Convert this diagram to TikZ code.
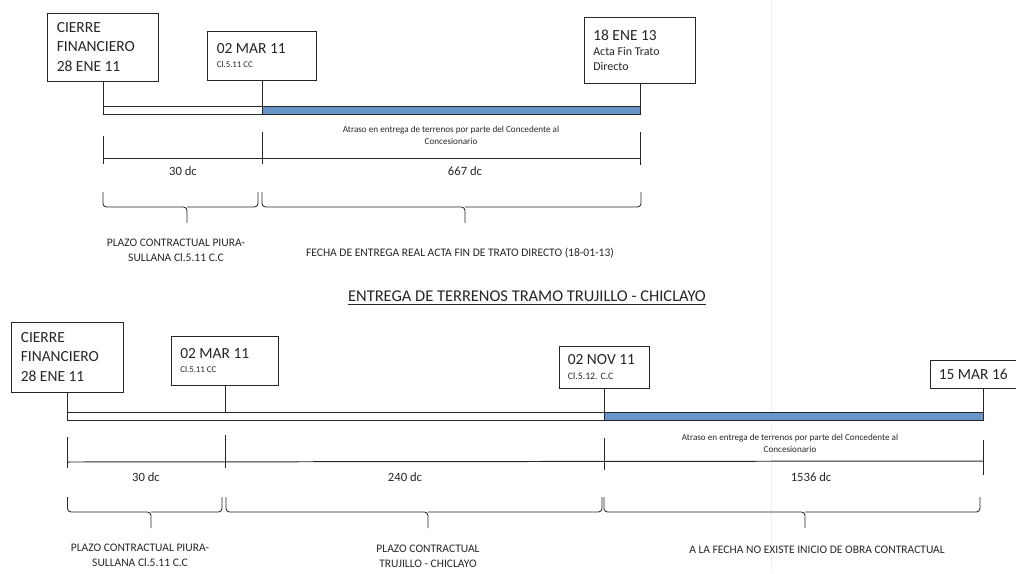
\documentclass[tikz,border=0pt]{standalone}
\usepackage{fontspec}
\setmainfont{Carlito}
\usetikzlibrary{positioning}
\definecolor{barblue}{RGB}{104,150,202}
\tikzset{
  fecha/.style={draw,line width=0.7pt,fill=white,align=flush left,inner xsep=0.22cm,
    font=\fontsize{11}{14}\selectfont},
  llave/.style={line width=0.6pt,rounded corners=2.5pt},
  atraso/.style={align=center,font=\fontsize{6.5}{8.5}\selectfont},
  nota/.style={align=center,font=\fontsize{8.2}{10.6}\selectfont},
  dias/.style={font=\fontsize{9}{10}\selectfont},
}
% llave: x inicio, x fin, x punta, y superior
\newcommand{\llave}[4]{%
  \draw[llave] (#1,#4) |- (#3,#4+15) -- (#3,#4+31);
  \draw[llave] (#3,#4+15) -| (#2,#4);}

\begin{document}
\begin{tikzpicture}[x=0.025cm,y=-0.025cm,line width=0.7pt,color=black!85]
\useasboundingbox (0,0) rectangle (1016,573);
\draw[gray!12,line width=0.4pt] (771,0) -- (771,573);
% tramo Piura - Sullana
\node[fecha,text width=2.31cm,minimum height=1.7cm] (cierreA) at (103,47) {CIERRE\\FINANCIERO\\28 ENE 11};
\node[fecha,text width=2.26cm,minimum height=1.225cm,font=\fontsize{6.3}{8}\selectfont] (marzoA) at (262,55.5) {{\fontsize{11}{13}\selectfont 02 MAR 11}\\[2pt]Cl.5.11 CC};
\node[fecha,text width=2.335cm,minimum height=1.65cm,font=\fontsize{8.5}{10}\selectfont] (actaA) at (640,50) {{\fontsize{11}{13}\selectfont 18 ENE 13}\\[1pt]Acta Fin Trato\\Directo};
\coordinate (a0) at (103,106);
\coordinate (a1) at (262,106);
\coordinate (a2) at (640,106);
\draw (a0) rectangle (262,114);
\draw[fill=barblue] (a1) rectangle (640,114);
\draw (cierreA.south) -- (a0);
\draw (marzoA.south) -- (a1);
\draw (actaA.south) -- (a2);
\node[atraso] (atrasoA) at (451,135) {Atraso en entrega de terrenos por parte del Concedente al\\Concesionario};
\draw (103,136) -- (103,164);
\draw (262,132) -- (262,164);
\draw (640,132) -- (640,165);
\draw (103,158) -- (640,158);
\node[dias] (diasA1) at (183,171) {30 dc};
\node[dias] (diasA2) at (465,171) {667 dc};
\llave{103}{258}{187}{192}
\llave{262}{641}{465}{192}
\node[nota] (plazoA) at (176,250) {PLAZO CONTRACTUAL PIURA-\\SULLANA Cl.5.11 C.C};
\node[nota] (entregaA) at (460,253) {FECHA DE ENTREGA REAL ACTA FIN DE TRATO DIRECTO (18-01-13)};
% tramo Trujillo - Chiclayo
\node[font=\fontsize{11.7}{14}\selectfont] (titulo) at (527,298) {\underline{ENTREGA DE TERRENOS TRAMO TRUJILLO - CHICLAYO}};
\node[fecha,text width=2.335cm,minimum height=1.75cm] (cierreB) at (67.5,357) {CIERRE\\FINANCIERO\\28 ENE 11};
\node[fecha,text width=2.235cm,minimum height=1.225cm,font=\fontsize{6.3}{8}\selectfont] (marzoB) at (225,360.5) {{\fontsize{11}{13}\selectfont 02 MAR 11}\\[2pt]Cl.5.11 CC};
\node[fecha,text width=1.81cm,minimum height=1.05cm,font=\fontsize{7}{9}\selectfont] (novB) at (604,367) {{\fontsize{11}{13}\selectfont 02 NOV 11}\\[1pt]Cl.5.12. C.C};
\node[fecha,text width=2.21cm,minimum height=0.7cm] (finB) at (983,374) {15 MAR 16};
\coordinate (b0) at (67.5,412);
\coordinate (b1) at (225,412);
\coordinate (b2) at (604,412);
\coordinate (b3) at (983,412);
\draw (b0) rectangle (604,420);
\draw[fill=barblue] (b2) rectangle (983,420);
\draw (cierreB.south) -- (b0);
\draw (marzoB.south) -- (b1);
\draw (novB.south) -- (b2);
\draw (finB.south -| b3) -- (b3);
\node[atraso] (atrasoB) at (790,443) {Atraso en entrega de terrenos por parte del Concedente al\\Concesionario};
\draw (67.5,437) -- (67.5,468);
\draw (225,435) -- (225,468);
\draw (604,438) -- (604,470);
\draw (983,440) -- (983,475);
\draw (67.5,462) -- (983,461);
\node[dias] (diasB1) at (146,477) {30 dc};
\node[dias] (diasB2) at (405,477) {240 dc};
\node[dias] (diasB3) at (811,477) {1536 dc};
\llave{67.5}{222}{151}{497}
\llave{226}{602}{428}{497}
\llave{604}{980}{805}{497}
\node[nota] (plazoB1) at (140,555) {PLAZO CONTRACTUAL PIURA-\\SULLANA Cl.5.11 C.C};
\node[nota] (plazoB2) at (428,556) {PLAZO CONTRACTUAL\\TRUJILLO - CHICLAYO};
\node[nota] (obraB) at (817,550) {A LA FECHA NO EXISTE INICIO DE OBRA CONTRACTUAL};
\end{tikzpicture}
\end{document}
